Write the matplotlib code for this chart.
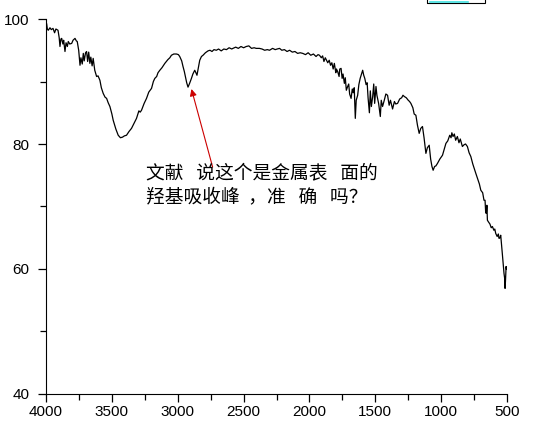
import matplotlib
matplotlib.use('Agg')
import matplotlib.pyplot as plt
from matplotlib.ticker import MultipleLocator
from matplotlib.patches import Rectangle
from matplotlib.lines import Line2D

# wavenumber (cm-1) and transmittance (%)
wn = [3995, 3990, 3983, 3970, 3960, 3947, 3935, 3925, 3909, 3900, 3894, 3887, 3881, 3872, 3866,
      3856, 3848, 3838, 3831, 3820, 3805, 3795, 3780, 3770, 3763, 3752, 3742, 3735, 3725, 3717,
      3710, 3700, 3692, 3684, 3676, 3667, 3660, 3650, 3642, 3630, 3616, 3605, 3591, 3580, 3566,
      3552, 3540, 3528, 3515, 3500, 3490, 3470, 3452, 3435, 3419, 3405, 3389, 3370, 3351, 3330,
      3313, 3295, 3285, 3275, 3255, 3237, 3220, 3199, 3185, 3174, 3160, 3150, 3136, 3120, 3098,
      3075, 3060, 3048, 3030, 3010, 2995, 2985, 2970, 2960, 2950, 2942, 2932, 2922, 2910, 2896,
      2885, 2871, 2862, 2854, 2845, 2833, 2820, 2808, 2790, 2770, 2755, 2740, 2725, 2707, 2690,
      2670, 2650, 2630, 2610, 2590, 2581, 2560, 2540, 2520, 2500, 2480, 2460, 2440, 2420, 2404,
      2380, 2360, 2340, 2320, 2303, 2280, 2260, 2245, 2227, 2210, 2190, 2170, 2151, 2130, 2110,
      2090, 2070, 2051, 2030, 2010, 1990, 1970, 1950, 1935, 1924, 1910, 1900, 1890, 1880, 1861,
      1850, 1840, 1830, 1820, 1811, 1800, 1795, 1786, 1775, 1770, 1760, 1752, 1745, 1735, 1728,
      1720, 1710, 1702, 1695, 1684, 1675, 1668, 1660, 1652, 1645, 1634, 1625, 1615, 1605, 1596,
      1588, 1580, 1570, 1562, 1555, 1545, 1538, 1530, 1520, 1512, 1505, 1495, 1488, 1475, 1462,
      1455, 1445, 1432, 1420, 1407, 1395, 1385, 1369, 1355, 1345, 1331, 1315, 1300, 1290, 1280,
      1265, 1250, 1240, 1230, 1215, 1205, 1192, 1180, 1167, 1155, 1142, 1130, 1116, 1105, 1091,
      1080, 1070, 1061, 1050, 1040, 1028, 1010, 990, 975, 964, 950, 935, 925, 919, 910,
      900, 890, 877, 865, 855, 839, 825, 815, 801, 788, 775, 760, 748, 737, 720,
      710, 699, 685, 675, 667, 662, 657, 653, 649, 640, 630, 620, 611, 600, 593,
      586, 575, 566, 561, 554, 548, 542, 536, 530, 523, 518, 515, 512, 509, 507, 505]
trans = [99.2, 98.4, 98.2, 98.6, 98.3, 98.5, 97.8, 98.4, 98.2, 97.0, 95.6, 96.8, 96.9, 96.0, 96.6,
         94.8, 96.2, 95.6, 96.4, 96.0, 96.1, 96.6, 96.9, 96.5, 96.4, 95.0, 92.6, 93.8, 92.8, 94.5,
         93.3, 94.6, 94.8, 93.2, 94.7, 92.9, 93.9, 92.5, 93.7, 91.8, 90.8, 90.9, 90.2, 89.0, 88.1,
         87.5, 87.3, 86.6, 86.0, 84.8, 83.8, 82.4, 81.4, 81.0, 81.1, 81.3, 81.4, 82.0, 82.5, 83.4,
         84.1, 85.3, 85.1, 85.4, 86.5, 87.3, 88.3, 88.9, 90.0, 90.5, 90.8, 91.4, 91.8, 92.2, 92.9,
         93.5, 93.8, 94.2, 94.4, 94.4, 94.3, 94.0, 93.3, 92.4, 91.6, 90.8, 89.8, 89.1, 89.7, 90.5,
         91.2, 91.8, 91.4, 91.0, 92.0, 93.4, 94.0, 94.2, 94.6, 94.9, 95.0, 94.8, 95.1, 95.0, 95.2,
         94.9, 95.2, 95.1, 95.4, 95.2, 95.3, 95.5, 95.3, 95.6, 95.4, 95.6, 95.7, 95.3, 95.4, 95.3,
         95.3, 95.2, 95.0, 95.1, 95.0, 95.3, 95.1, 95.2, 95.3, 95.0, 95.1, 94.8, 95.0, 94.7, 94.8,
         94.5, 94.6, 94.5, 94.3, 94.6, 94.2, 94.4, 94.0, 94.3, 94.2, 93.8, 94.1, 93.2, 93.8, 93.0,
         93.4, 92.6, 93.0, 92.0, 92.9, 91.4, 92.0, 91.6, 90.8, 92.0, 92.1, 90.5, 91.2, 89.7, 90.6,
         88.6, 89.2, 89.6, 88.0, 87.3, 88.8, 88.2, 89.0, 84.1, 87.0, 87.8, 89.5, 90.5, 91.2, 91.8,
         91.0, 90.5, 89.5, 89.8, 87.4, 85.0, 88.5, 86.0, 87.6, 89.6, 86.5, 89.2, 87.8, 86.5, 84.4,
         87.0, 86.0, 87.0, 88.0, 87.8, 86.2, 87.0, 85.6, 86.8, 86.4, 86.5, 87.2, 87.4, 87.8, 87.6,
         87.4, 87.0, 86.8, 86.5, 85.8, 84.8, 84.6, 83.0, 81.7, 82.5, 82.8, 81.0, 78.5, 79.4, 79.8,
         77.6, 76.4, 75.8, 76.4, 76.5, 76.9, 77.6, 78.2, 79.3, 80.1, 80.5, 81.4, 81.0, 81.8, 81.2,
         81.6, 80.6, 81.2, 80.2, 80.8, 79.6, 79.9, 80.0, 79.6, 78.6, 78.0, 76.8, 76.0, 75.3, 74.2,
         73.6, 72.6, 72.2, 71.0, 71.0, 69.0, 68.9, 70.2, 67.8, 67.5, 67.2, 66.6, 66.8, 66.2, 66.4,
         65.7, 65.2, 65.6, 64.9, 65.0, 65.4, 64.0, 62.5, 61.0, 59.3, 58.5, 56.9, 58.0, 59.5, 60.4, 60.0]

note = '文献   说这个是金属表   面的\n羟基吸收峰  ，准   确   吗？'
arrow_tip = (2896, 88.8)
arrow_tail = (2735, 76.3)

fig = plt.figure(figsize=(5.37, 4.29), dpi=100)
ax = fig.add_axes([0.0857, 0.0816, 0.8585, 0.8741])
ax.plot(wn, trans, color='black', linewidth=0.9)

ax.set_xlim(4000, 500)
ax.set_ylim(40, 100)
ax.xaxis.set_major_locator(MultipleLocator(500))
ax.xaxis.set_minor_locator(MultipleLocator(250))
ax.yaxis.set_major_locator(MultipleLocator(20))
ax.yaxis.set_minor_locator(MultipleLocator(10))
for s in ['top', 'right']:
    ax.spines[s].set_visible(False)
ax.tick_params(which='major', direction='out', length=6, width=0.9, labelsize=11, pad=2)
ax.tick_params(which='minor', direction='out', length=4, width=0.9)
ax.tick_params(axis='y', which='major', pad=6)
for lab in ax.get_xticklabels() + ax.get_yticklabels():
    lab.set_fontfamily('Liberation Sans')

ax.annotate('', xy=arrow_tip, xytext=arrow_tail,
            arrowprops=dict(arrowstyle='-|>', color='#cc0000', lw=0.8,
                            mutation_scale=10, shrinkA=0, shrinkB=0))
ax.text(0.217, 0.617, note, transform=ax.transAxes, fontsize=13.5,
        family=['Noto Sans CJK SC', 'DejaVu Sans'], va='top', ha='left',
        linespacing=1.15, color='black')

# clipped legend box at the top edge
fig.patches.append(Rectangle((427/537, 1 - 3/429), 58/537, 0.05, transform=fig.transFigure,
                             fill=False, edgecolor='black', linewidth=0.8))
fig.lines.append(Line2D([430/537, 468/537], [1 - 2/429, 1 - 2/429], transform=fig.transFigure,
                        color='#40e0e0', linewidth=1.2))

fig.savefig('out.png', dpi=100)
